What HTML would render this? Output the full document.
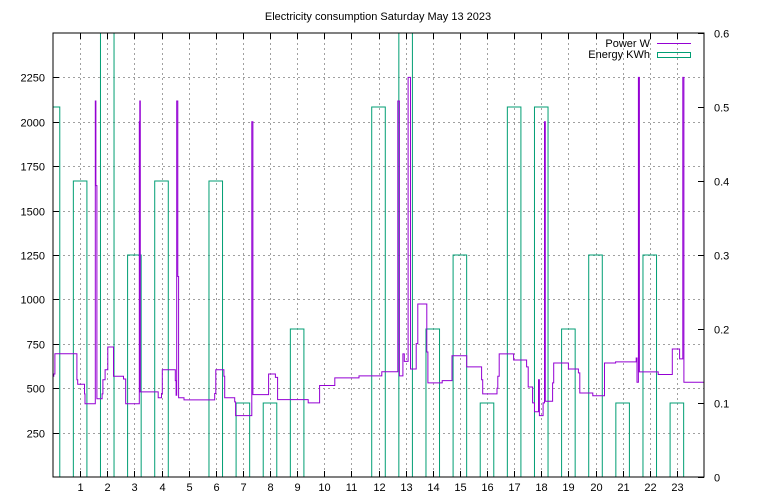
<!DOCTYPE html>
<html><head><meta charset="utf-8"><style>
html,body{margin:0;padding:0;background:#fff;}
svg{display:block;font-family:"Liberation Sans","DejaVu Sans",sans-serif;font-size:11px;}
</style></head><body>
<svg id="chart" width="768" height="500" viewBox="0 0 768 500" xmlns="http://www.w3.org/2000/svg">
<defs><clipPath id="plotclip"><rect x="53" y="33" width="651" height="444"/></clipPath></defs>
<text x="378" y="20" text-anchor="middle" fill="#000">Electricity consumption Saturday May 13 2023</text>
<g id="grid"></g>
<g id="bars" clip-path="url(#plotclip)"></g>
<g id="line" clip-path="url(#plotclip)"></g>
<rect x="53" y="33" width="651" height="444" fill="none" stroke="#000" stroke-width="1"/>
<g id="axes"></g>
<g>
<text x="650" y="47" text-anchor="end">Power W</text>
<line x1="657" y1="43.5" x2="691" y2="43.5" stroke="#9400d3" stroke-width="1"/>
<text x="650" y="58" text-anchor="end">Energy KWh</text>
<rect x="657.5" y="52.5" width="33" height="5" fill="none" stroke="#009e73" stroke-width="1"/>
</g>
</svg>
<script>
const hours = [0,1,2,3,4,5,6,7,8,9,10,11,12,13,14,15,16,17,18,19,20,21,22,23];
const energy = [0.5,0.4,0.7,0.3,0.4,0,0.4,0.1,0.1,0.2,0,0,0.5,0.7,0.2,0.3,0.1,0.5,0.5,0.2,0.3,0.1,0.3,0.1];
const powerT = [
 0,0.03,0.07,0.88,0.91,1.16,1.18,1.56,1.58,1.62,
 1.81,1.84,1.92,2.02,2.23,2.6,2.68,3.18,3.2,3.22,
 3.88,4.0,4.03,4.51,4.54,4.56,4.6,4.63,4.83,5.96,
 6.0,6.3,6.33,6.7,6.73,7.33,7.37,7.95,8.2,8.28,
 9.41,9.83,10.39,11.28,12.12,12.71,12.77,12.9,12.95,13.09,
 13.18,13.39,13.45,13.78,13.82,14.35,14.71,15.25,15.8,15.84,
 16.37,16.4,16.45,16.98,17.46,17.52,17.68,17.75,17.9,17.93,
 18.07,18.12,18.15,18.42,18.46,19.0,19.37,19.42,19.9,20.33,
 20.74,21.5,21.53,21.58,21.62,22.31,22.83,23.1,23.22,23.26,
 24];
const powerW = [
 567,580,694,548,522,468,412,2117,1641,441,
 468,548,604,732,567,552,412,2000,2117,479,
 446,470,604,543,460,2117,1129,446,434,470,
 604,567,446,423,346,2000,464,580,561,436,
 417,515,558,569,593,2117,569,693,651,2250,
 608,751,974,704,530,543,683,620,548,468,
 500,567,693,659,620,507,417,367,548,346,
 417,2000,427,530,642,608,586,473,457,642,
 648,670,533,2250,592,577,721,665,2250,533,
 533];
const yLeftTicks = [250,500,750,1000,1250,1500,1750,2000,2250];
const yRightTicks = [0,0.1,0.2,0.3,0.4,0.5,0.6];
const xTicks = [1,2,3,4,5,6,7,8,9,10,11,12,13,14,15,16,17,18,19,20,21,22,23];

const L=53,R=704,T=33,B=477;
const xS = h => L + h*(R-L)/24;
const yW = w => B - w*(B-T)/2500;
const yE = e => B - e*(B-T)/0.6;
const NS="http://www.w3.org/2000/svg";
function mk(tag, attrs, parent){const e=document.createElementNS(NS,tag);for(const k in attrs)e.setAttribute(k,attrs[k]);parent.appendChild(e);return e;}
const grid=document.getElementById('grid'), axes=document.getElementById('axes');
xTicks.forEach(h=>{
  const x=Math.round(xS(h))+0.5;
  const g=mk('line',{x1:x,y1:T,x2:x,y2:B,stroke:'#a0a0a0','stroke-dasharray':'2,3'},grid);
  
  
  const t1=mk('line',{x1:x,y1:B,x2:x,y2:B-6,stroke:'#000'},axes);
  
  
  const t2=mk('line',{x1:x,y1:T,x2:x,y2:T+6,stroke:'#000'},axes);
  
  
  const lb=mk('text',{x:x,y:491,'text-anchor':'middle'},axes);lb.textContent=h;
  
  
});
yLeftTicks.forEach(v=>{
  const y=Math.round(yW(v))+0.5;
  const g=mk('line',{x1:L,y1:y,x2:R,y2:y,stroke:'#a0a0a0','stroke-dasharray':'2,3'},grid);
  
  
  const t=mk('line',{x1:L,y1:y,x2:L+6,y2:y,stroke:'#000'},axes);
  
  
  const lb=mk('text',{x:45,y:y+4,'text-anchor':'end'},axes);lb.textContent=v;
  
  
});
yRightTicks.forEach(v=>{
  const y=Math.round(yE(v))+0.5;
  const t=mk('line',{x1:R,y1:y,x2:R-6,y2:y,stroke:'#000'},axes);
  
  
  const lb=mk('text',{x:714,y:y+4,'text-anchor':'start'},axes);lb.textContent=v;
  
  
});
const bars=document.getElementById('bars');
hours.forEach((h,i)=>{
  if(energy[i]<=0)return;
  const x1=xS(h-0.25),x2=xS(h+0.25),y=yE(energy[i]);
  const r=mk('rect',{x:x1,y:y,width:x2-x1,height:B-y,fill:'none',stroke:'#009e73','stroke-width':1},bars);
  
  
});
let d='';
for(let i=0;i<powerT.length-1;i++){
  const x0=xS(powerT[i]),x1=xS(powerT[i+1]),y=yW(powerW[i]);
  d+=(i===0?'M':'L')+x0.toFixed(1)+','+y.toFixed(1)+'L'+x1.toFixed(1)+','+y.toFixed(1);
}
const p=mk('path',{d:d,fill:'none',stroke:'#9400d3','stroke-width':1},document.getElementById('line'));


</script>
</body></html>
